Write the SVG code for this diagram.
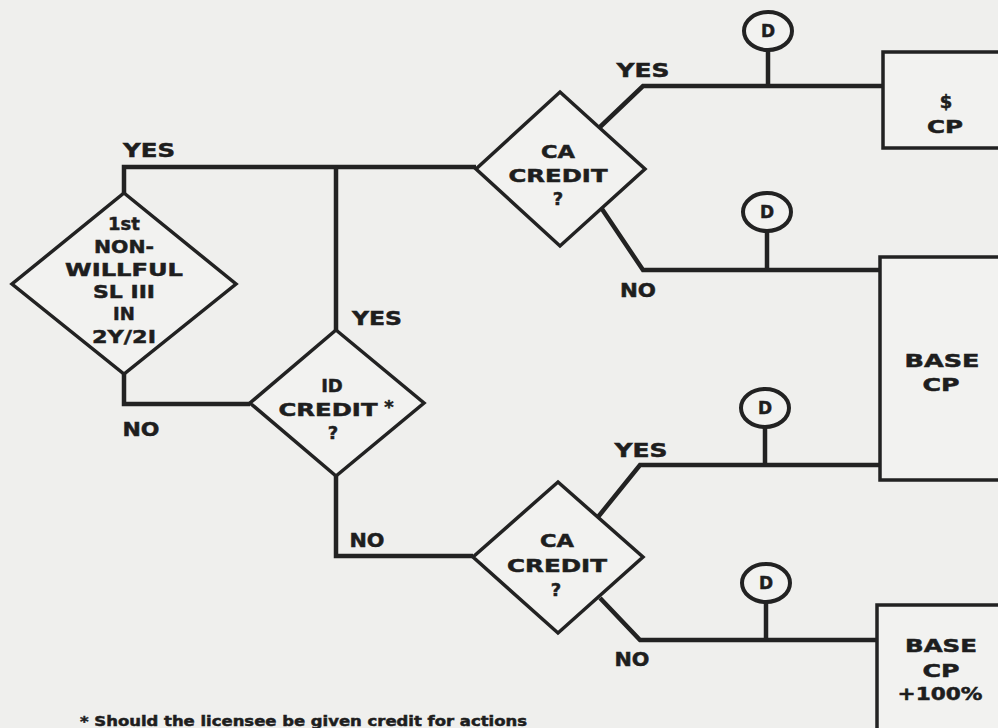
<svg xmlns="http://www.w3.org/2000/svg" width="998" height="728" viewBox="0 0 998 728">
<style>
.bg{fill:#efefed}
.conn{fill:none;stroke:#222;stroke-width:4.5;stroke-linejoin:miter}
.shape{fill:#f2f2f0;stroke:#222;stroke-width:3.5}
.t{font-family:"DejaVu Sans","Liberation Sans",Arial,sans-serif;font-weight:bold;fill:#1e1e1e;stroke:#1e1e1e;stroke-width:0.5;text-anchor:middle}
.n{font-size:18px}
.l{font-size:19px}
.d{font-size:17px}
.f{font-size:14px;text-anchor:start}
.circ{fill:#f2f2f0;stroke:#222;stroke-width:4}
</style>
<rect class="bg" x="0" y="0" width="998" height="728"/>
<g id="connectors">
<polyline class="conn" points="124,193 124,167 476,167"/>
<polyline class="conn" points="336,167 336,330"/>
<polyline class="conn" points="124,374 124,404 250,404"/>
<polyline class="conn" points="336,476 336,556 473,556"/>
<polyline class="conn" points="600,127 643,86 883,86"/>
<polyline class="conn" points="602,209 643,270 880,270"/>
<polyline class="conn" points="598,517 640,465 880,465"/>
<polyline class="conn" points="600,598 640,640 877,640"/>
<line class="conn" x1="768" y1="50" x2="768" y2="86"/>
<line class="conn" x1="767" y1="231" x2="767" y2="270"/>
<line class="conn" x1="765" y1="427" x2="765" y2="465"/>
<line class="conn" x1="766" y1="602" x2="766" y2="640"/>
</g>
<g id="labels">
<text class="t l" x="149" y="157" textLength="52" lengthAdjust="spacingAndGlyphs">YES</text>
<text class="t l" x="377" y="325" textLength="50" lengthAdjust="spacingAndGlyphs">YES</text>
<text class="t l" x="141" y="436" textLength="37" lengthAdjust="spacingAndGlyphs">NO</text>
<text class="t l" x="367" y="547" textLength="35" lengthAdjust="spacingAndGlyphs">NO</text>
<text class="t l" x="643" y="77" textLength="53" lengthAdjust="spacingAndGlyphs">YES</text>
<text class="t l" x="638" y="297" textLength="36" lengthAdjust="spacingAndGlyphs">NO</text>
<text class="t l" x="641" y="457" textLength="53" lengthAdjust="spacingAndGlyphs">YES</text>
<text class="t l" x="632" y="666" textLength="35" lengthAdjust="spacingAndGlyphs">NO</text>
</g>
<g id="node-first-nonwillful">
<polygon class="shape" points="124,193 236,284 124,374 12,284"/>
<text class="t n" x="124" y="230">1st</text>
<text class="t n" x="124" y="253" textLength="60" lengthAdjust="spacingAndGlyphs">NON-</text>
<text class="t n" x="124" y="276" textLength="118" lengthAdjust="spacingAndGlyphs">WILLFUL</text>
<text class="t n" x="124" y="298" textLength="62" lengthAdjust="spacingAndGlyphs">SL III</text>
<text class="t n" x="124" y="320">IN</text>
<text class="t n" x="124" y="343" textLength="64" lengthAdjust="spacingAndGlyphs">2Y/2I</text>
</g>
<g id="node-id-credit">
<polygon class="shape" points="336,330 424,403 336,476 250,403"/>
<text class="t n" x="332" y="392">ID</text>
<text class="t n" x="328" y="416" textLength="99" lengthAdjust="spacingAndGlyphs">CREDIT</text>
<text class="t n" x="389" y="413">*</text>
<text class="t n" x="333" y="439">?</text>
</g>
<g id="node-ca-credit-1">
<polygon class="shape" points="560,92 645,169 560,246 476,169"/>
<text class="t n" x="558" y="158" textLength="34" lengthAdjust="spacingAndGlyphs">CA</text>
<text class="t n" x="558" y="182" textLength="99" lengthAdjust="spacingAndGlyphs">CREDIT</text>
<text class="t n" x="558" y="205">?</text>
</g>
<g id="node-ca-credit-2">
<polygon class="shape" points="558,482 643,557 558,633 473,557"/>
<text class="t n" x="557" y="547" textLength="34" lengthAdjust="spacingAndGlyphs">CA</text>
<text class="t n" x="557" y="572" textLength="100" lengthAdjust="spacingAndGlyphs">CREDIT</text>
<text class="t n" x="556" y="596">?</text>
</g>
<g id="node-d1">
<ellipse class="circ" cx="768" cy="31" rx="24" ry="19"/>
<text class="t d" x="768" y="37">D</text>
</g>
<g id="node-d2">
<ellipse class="circ" cx="767" cy="212" rx="24" ry="19"/>
<text class="t d" x="767" y="218">D</text>
</g>
<g id="node-d3">
<ellipse class="circ" cx="765" cy="408" rx="24" ry="19"/>
<text class="t d" x="765" y="414">D</text>
</g>
<g id="node-d4">
<ellipse class="circ" cx="766" cy="583" rx="24" ry="19"/>
<text class="t d" x="766" y="589">D</text>
</g>
<g id="node-zero-cp">
<rect class="shape" x="883" y="52" width="130" height="96"/>
<text class="t n" x="946" y="108">$</text>
<text class="t n" x="945" y="133" textLength="36" lengthAdjust="spacingAndGlyphs">CP</text>
</g>
<g id="node-base-cp">
<rect class="shape" x="880" y="257" width="130" height="223"/>
<text class="t n" x="942" y="367" textLength="75" lengthAdjust="spacingAndGlyphs">BASE</text>
<text class="t n" x="941" y="391" textLength="37" lengthAdjust="spacingAndGlyphs">CP</text>
</g>
<g id="node-base-cp-100">
<rect class="shape" x="877" y="605" width="135" height="140"/>
<text class="t n" x="941" y="652" textLength="72" lengthAdjust="spacingAndGlyphs">BASE</text>
<text class="t n" x="941" y="677" textLength="37" lengthAdjust="spacingAndGlyphs">CP</text>
<text class="t n" x="940" y="700" textLength="85" lengthAdjust="spacingAndGlyphs">+100%</text>
</g>
<g id="footnote">
<text class="t f" x="80" y="726" textLength="447" lengthAdjust="spacingAndGlyphs">*  Should the licensee be given credit for actions</text>
</g>
</svg>
